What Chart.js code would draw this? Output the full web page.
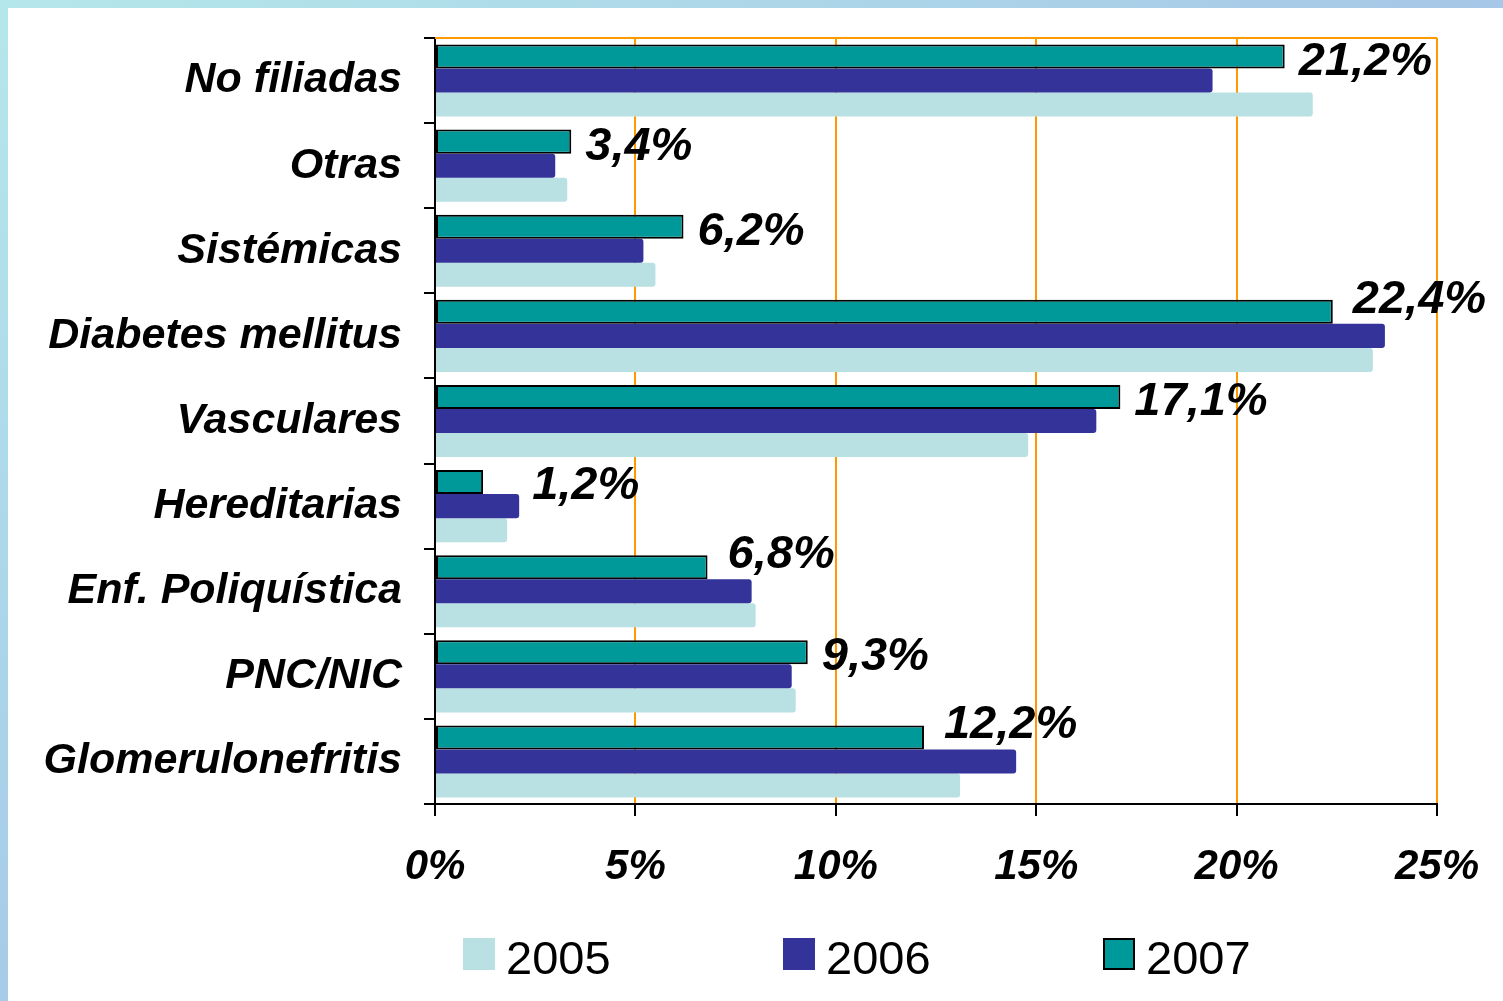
<!DOCTYPE html>
<html><head><meta charset="utf-8">
<script src="https://cdn.jsdelivr.net/npm/chart.js@4/dist/chart.umd.min.js"></script>
<style>
html,body{margin:0;padding:0;background:#fff;overflow:hidden}
#wrap{position:relative;width:1503px;height:1001px}
#topband{position:absolute;left:0;top:0;width:1503px;height:8px;background:linear-gradient(to right,#b4e7ea,#a6c7e7)}
#leftband{position:absolute;left:0;top:0;width:8px;height:1001px;background:linear-gradient(to bottom,#b4e7ea,#a6cbe8)}
canvas{position:absolute;left:0;top:0}
</style></head>
<body><div id="wrap"><div id="topband"></div><div id="leftband"></div><canvas id="c" width="1503" height="1001"></canvas></div>
<script>
const categories = ['No filiadas','Otras','Sistémicas','Diabetes mellitus','Vasculares','Hereditarias','Enf. Poliquística','PNC/NIC','Glomerulonefritis'];
const years = ['2007','2006','2005'];
const v2007 = [21.2, 3.4, 6.2, 22.4, 17.1, 1.2, 6.8, 9.3, 12.2];
const v2006 = [19.4, 3.0, 5.2, 23.7, 16.5, 2.1, 7.9, 8.9, 14.5];
const v2005 = [21.9, 3.3, 5.5, 23.4, 14.8, 1.8, 8.0, 9.0, 13.1];
const xTicks = [0, 5, 10, 15, 20, 25];

const FONT = '"Liberation Sans", Arial, sans-serif';
Chart.defaults.font.family = FONT;

const fmt = v => v.toFixed(1).replace('.', ',') + '%';

const topLine = {
  id: 'topLine',
  beforeDatasetsDraw(chart) {
    const {ctx, chartArea} = chart;
    ctx.save();
    ctx.strokeStyle = '#ff9900';
    ctx.lineWidth = 2;
    ctx.beginPath();
    ctx.moveTo(chartArea.left, chartArea.top);
    ctx.lineTo(chartArea.right, chartArea.top);
    ctx.stroke();
    ctx.restore();
  }
};

const valueLabels = {
  id: 'valueLabels',
  afterDatasetsDraw(chart) {
    const {ctx} = chart;
    const m07 = chart.getDatasetMeta(0);
    const m06 = chart.getDatasetMeta(1);
    ctx.save();
    ctx.fillStyle = '#000';
    ctx.font = 'italic bold 47px ' + FONT;
    ctx.textAlign = 'left';
    ctx.textBaseline = 'alphabetic';
    m07.data.forEach((bar, i) => {
      const b06 = m06.data[i];
      const d = b06.x - bar.x;
      let x = bar.x + 14, y = bar.y + 18;
      if (d > 0 && d < 40) { x = b06.x + 13; y = bar.y + 17; }
      else if (d >= 40) { x = bar.x + 20; y = bar.y + 1; }
      ctx.fillText(fmt(chart.data.datasets[0].data[i]), x, y);
    });
    ctx.restore();
  }
};

const legendPlugin = {
  id: 'customLegend',
  afterDraw(chart) {
    const {ctx} = chart;
    const ds = chart.data.datasets.slice().reverse();
    ctx.save();
    ds.forEach((d, i) => {
      const bx = 463 + i * 320, by = 938;
      ctx.fillStyle = d.backgroundColor;
      ctx.fillRect(bx, by, 32, 32);
      if (d.borderWidth) {
        ctx.strokeStyle = '#000';
        ctx.lineWidth = 2;
        ctx.strokeRect(bx + 1, by + 1, 30, 30);
      }
      ctx.fillStyle = '#000';
      ctx.font = '47px ' + FONT;
      ctx.textBaseline = 'alphabetic';
      ctx.textAlign = 'left';
      ctx.fillText(d.label, bx + 43, by + 36);
    });
    ctx.restore();
  }
};

new Chart(document.getElementById('c'), {
  type: 'bar',
  data: {
    labels: categories,
    datasets: [
      {label: years[0], data: v2007, backgroundColor: '#009999', borderColor: '#000', borderWidth: 2, borderSkipped: false},
      {label: years[1], data: v2006, backgroundColor: '#333399', borderWidth: 0, borderRadius: 3},
      {label: years[2], data: v2005, backgroundColor: '#b9e0e3', borderWidth: 0, borderRadius: 3}
    ]
  },
  options: {
    indexAxis: 'y',
    responsive: false,
    animation: false,
    categoryPercentage: 0.847,
    barPercentage: 1,
    layout: {padding: {top: 38, right: 66, left: 0, bottom: 107}},
    plugins: {legend: {display: false}, tooltip: {enabled: false}},
    scales: {
      x: {
        min: 0, max: 25,
        afterBuildTicks: s => { s.ticks = xTicks.map(v => ({value: v})); },
        grid: {color: '#ff9900', lineWidth: 2, tickColor: '#000', tickLength: 12, drawTicks: true},
        border: {color: '#000', width: 2},
        ticks: {callback: v => v + '%', font: {size: 42, weight: 'bold', style: 'italic'}, color: '#000', padding: 26, maxRotation: 0, autoSkip: false},
        afterFit: s => { s.height = 90; s.paddingLeft = 0; s.paddingRight = 0; }
      },
      y: {
        grid: {offset: true, drawOnChartArea: false, tickColor: '#000', tickLength: 11, lineWidth: 2, color: '#000'},
        border: {color: '#000', width: 2},
        ticks: {font: {size: 43, weight: 'bold', style: 'italic'}, color: '#000', padding: 22, autoSkip: false},
        afterFit: s => { s.width = 435; s.paddingTop = 0; s.paddingBottom = 0; }
      }
    }
  },
  plugins: [topLine, valueLabels, legendPlugin]
});
</script>
</body></html>
